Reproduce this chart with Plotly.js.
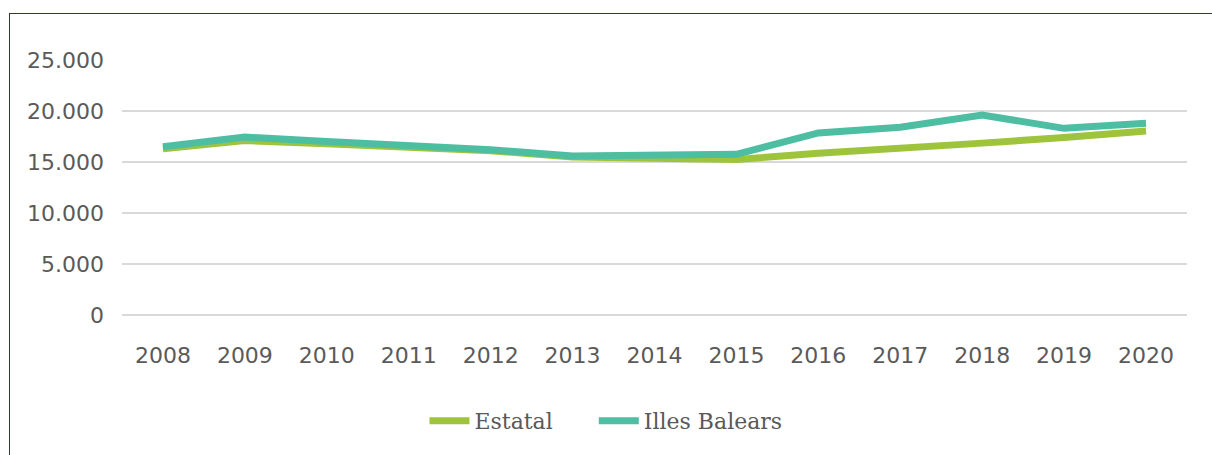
<!DOCTYPE html>
<html>
<head>
<meta charset="utf-8">
<script src="https://cdn.plot.ly/plotly-3.0.1.min.js"></script>
<style>
  html, body { margin: 0; padding: 0; background: #fff; }
  #wrap { position: relative; width: 1212px; height: 455px; overflow: hidden; }
  #frame { position: absolute; left: 9px; top: 13px; right: -5px; bottom: -5px;
           border-top: 1.5px solid #2e3360; border-left: 1.5px solid #2e3360; pointer-events: none; }
  #chart { position: absolute; left: 0; top: 0; width: 1212px; height: 455px; }
</style>
</head>
<body>
<div id="wrap">
  <div id="chart"></div>
  <div id="frame"></div>
</div>
<script>
const years = ['2008','2009','2010','2011','2012','2013','2014','2015','2016','2017','2018','2019','2020'];
const estatal = [16300, 17100, 16800, 16400, 16100, 15500, 15300, 15250, 15850, 16300, 16850, 17400, 18050];
const illesBalears = [16500, 17450, 17000, 16600, 16200, 15600, 15750, 15750, 17850, 18400, 19600, 18300, 18800];
const yTicks = [0, 5000, 10000, 15000, 20000, 25000];
const yTickLabels = ['0', '5.000', '10.000', '15.000', '20.000', '25.000'];

const traces = [
  { x: years, y: estatal, name: 'Estatal', type: 'scatter', mode: 'lines',
    line: { color: '#9dc43b', width: 7 }, legend: 'legend' },
  { x: years, y: illesBalears, name: 'Illes Balears', type: 'scatter', mode: 'lines',
    line: { color: '#4dbea2', width: 7 }, legend: 'legend2' }
];

const legendStyle = {
  orientation: 'h', xanchor: 'left', y: -0.415, yanchor: 'middle',
  font: { family: 'DejaVu Serif', size: 22, color: '#595959' },
  itemwidth: 40, bgcolor: 'rgba(0,0,0,0)'
};

const layout = {
  width: 1212, height: 455,
  margin: { l: 122, r: 25, t: 60, b: 140 },
  paper_bgcolor: 'rgba(0,0,0,0)', plot_bgcolor: 'rgba(0,0,0,0)',
  font: { family: 'DejaVu Sans', size: 22, color: '#595959' },
  xaxis: {
    type: 'category', range: [-0.5, 12.5], showgrid: false, showline: false, zeroline: false,
    ticks: '', ticklabelstandoff: 25, tickfont: { size: 22, color: '#5a5a5a' }
  },
  yaxis: {
    range: [0, 25000], tickvals: yTicks, ticktext: yTickLabels,
    showgrid: true, gridcolor: '#d9d9d9', gridwidth: 1.5,
    zeroline: true, zerolinecolor: '#d9d9d9', zerolinewidth: 1.5,
    showline: false, ticks: '', ticklabelstandoff: 17,
    tickfont: { size: 22, color: '#5a5a5a' }
  },
  showlegend: true,
  legend: Object.assign({}, legendStyle, { x: 0.284 }),
  legend2: Object.assign({}, legendStyle, { x: 0.443 })
};

Plotly.newPlot('chart', traces, layout, { displayModeBar: false, staticPlot: true });
</script>
</body>
</html>
